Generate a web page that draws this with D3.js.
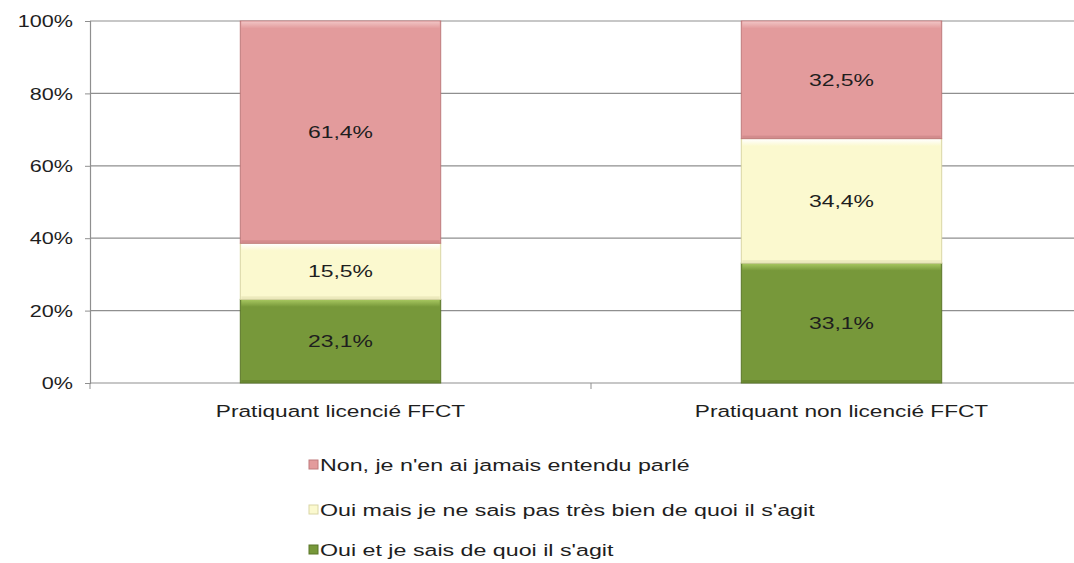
<!DOCTYPE html>
<html lang="fr">
<head>
<meta charset="utf-8">
<script src="https://d3js.org/d3.v7.min.js"></script>
<style>
  body { margin: 0; background: #fff; }
  text { font-family: "Liberation Sans", Arial, sans-serif; fill: #1e1e1e; }
</style>
</head>
<body>
<script>
// categories and series (percent)
const categories = ["Pratiquant licencié FFCT", "Pratiquant non licencié FFCT"];
const seriesNames = ["Oui et je sais de quoi il s'agit", "Oui mais je ne sais pas très bien de quoi il s'agit", "Non, je n'en ai jamais entendu parlé"];
const ouiSait = [23.1, 33.1];
const ouiMais = [15.5, 34.4];
const nonJamais = [61.4, 32.5];
const yTicks = [0, 20, 40, 60, 80, 100];

const colors = [
  {fill: "#77983a", light: "#a6c65f", dark: "#5a7628"},
  {fill: "#fbf9cf", light: "#ffffff", dark: "#d9d6a6"},
  {fill: "#e39b9c", light: "#f1c4c4", dark: "#bf7b7c"}
];

const W = 1074, H = 563;
const margin = {top: 21, left: 90, right: -18, bottom: 180};
const width = W - margin.left - margin.right;
const height = H - margin.top - margin.bottom;
const sx = 1.35; // glyphs in the source are stretched horizontally

const svg = d3.select("body").append("svg")
  .attr("width", W).attr("height", H);
const defs = svg.append("defs");
colors.forEach((c, i) => {
  const lg = defs.append("linearGradient").attr("id", "top" + i).attr("x1", 0).attr("x2", 0).attr("y1", 0).attr("y2", 1);
  lg.append("stop").attr("offset", "0%").attr("stop-color", c.light);
  lg.append("stop").attr("offset", "100%").attr("stop-color", c.fill);
});
const g = svg.append("g")
  .attr("transform", "translate(" + margin.left + "," + margin.top + ")");

const x = d3.scaleBand().domain(categories).range([0, width]).paddingInner(0.6).paddingOuter(0.3);
const y = d3.scaleLinear().domain([0, 100]).range([height, 0]);

// gridlines
g.selectAll(".grid").data(yTicks.slice(1)).enter().append("line")
  .attr("x1", 0).attr("x2", width)
  .attr("y1", d => y(d)).attr("y2", d => y(d))
  .attr("stroke", "#8f8f8f").attr("stroke-width", 1.2);

// y axis
const yAxis = g.append("g").call(d3.axisLeft(y).tickValues(yTicks).tickSize(5).tickFormat(d => d + "%"));
yAxis.select(".domain").attr("stroke", "#8f8f8f").attr("stroke-width", 1.2);
yAxis.selectAll(".tick line").attr("stroke", "#8f8f8f");
yAxis.selectAll("text")
  .attr("x", null).attr("dy", "0.35em")
  .attr("transform", "translate(-17,0) scale(" + sx + ",1)")
  .style("font-size", "16px").style("font-family", "Liberation Sans, Arial, sans-serif").attr("fill", "#1e1e1e");

// x axis line with ticks at category boundaries
g.append("line").attr("x1", 0).attr("x2", width).attr("y1", height).attr("y2", height)
  .attr("stroke", "#8f8f8f").attr("stroke-width", 1.2);
const bounds = [0].concat(categories.map(c => x(c) + x.bandwidth() / 2 + x.step() / 2));
g.selectAll(".xt").data(bounds).enter().append("line")
  .attr("x1", d => d).attr("x2", d => d).attr("y1", height).attr("y2", height + 6)
  .attr("stroke", "#8f8f8f");
g.selectAll(".xl").data(categories).enter().append("text")
  .attr("transform", d => "translate(" + (x(d) + x.bandwidth() / 2) + "," + (height + 34) + ") scale(" + sx + ",1)")
  .attr("text-anchor", "middle").style("font-size", "16.8px")
  .text(d => d);

// stacked bars
const values = [ouiSait, ouiMais, nonJamais];
categories.forEach((c, i) => {
  let base = 0;
  values.forEach((vals, s) => {
    const v = vals[i];
    const y0 = y(base), y1 = y(base + v);
    const bx = x(c), bw = x.bandwidth(), bh = y0 - y1;
    const col = colors[s];
    const seg = g.append("g");
    seg.append("rect").attr("x", bx).attr("y", y1).attr("width", bw).attr("height", bh)
      .attr("fill", col.fill).attr("stroke", col.dark).attr("stroke-width", 1);
    // bevel highlights
    seg.append("rect").attr("x", bx + 1).attr("y", y1 + 0.5).attr("width", bw - 2).attr("height", 7)
      .attr("fill", "url(#top" + s + ")");
    seg.append("rect").attr("x", bx + 1).attr("y", y0 - 3).attr("width", bw - 2).attr("height", 2.5)
      .attr("fill", col.dark).attr("opacity", 0.45);
    seg.append("text")
      .attr("transform", "translate(" + (bx + bw / 2) + "," + ((y0 + y1) / 2) + ") scale(" + sx + ",1)")
      .attr("text-anchor", "middle").attr("dy", "0.35em").style("font-size", "17px")
      .text(d3.format(".1f")(v).replace(".", ",") + "%");
    base += v;
  });
});

// legend (top series first)
const legend = svg.append("g").attr("transform", "translate(309,0)");
const legendRows = [2, 1, 0];
const legendY = [465, 510, 550];
legendRows.forEach((s, k) => {
  const row = legend.append("g").attr("transform", "translate(0," + legendY[k] + ")");
  row.append("rect").attr("x", 0).attr("y", -5).attr("width", 9).attr("height", 9)
    .attr("fill", colors[s].fill).attr("stroke", colors[s].dark);
  row.append("text").attr("transform", "translate(11,0) scale(" + sx + ",1)")
    .attr("dy", "0.35em").style("font-size", "17.2px").text(seriesNames[s]);
});
</script>
</body>
</html>
